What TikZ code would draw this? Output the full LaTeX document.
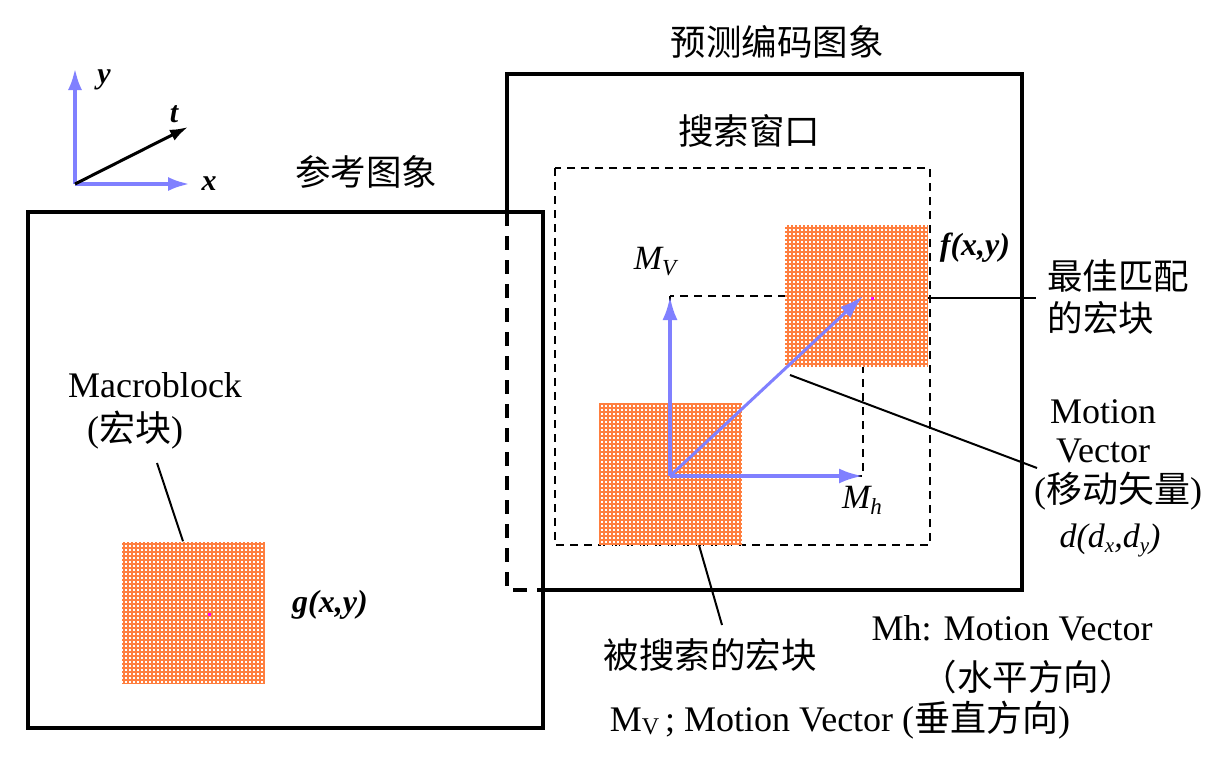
\documentclass[tikz,border=0pt]{standalone}
\usepackage{fontspec}
\setmainfont{Liberation Serif}
\newfontfamily\cjk{Noto Sans CJK SC}
\usetikzlibrary{arrows.meta,patterns}
\definecolor{blkorange}{RGB}{255,127,63}
\definecolor{arrowblue}{RGB}{128,128,255}
\definecolor{dotmag}{RGB}{255,0,255}
\pgfdeclarepatternformonly{wdots}{\pgfpoint{-0.5pt}{-0.5pt}}{\pgfpoint{4.5pt}{4.5pt}}{\pgfpoint{4pt}{4pt}}{\pgfpathrectangle{\pgfpoint{1pt}{1pt}}{\pgfpoint{2pt}{2pt}}\pgfusepath{fill}}
\begin{document}
\begin{tikzpicture}[x=1pt,y=-1pt,
  frame/.style={line width=4pt},
  thickdash/.style={line width=4pt, dash pattern=on 14pt off 10pt},
  winddash/.style={line width=2pt, dash pattern=on 8pt off 6pt},
  blk/.style={draw=none, fill=blkorange, minimum width=143pt, minimum height=142pt, inner sep=0pt, postaction={pattern=wdots, pattern color=white}},
  bluearrow/.style={draw=arrowblue, line width=4pt, -{Latex[length=24pt,width=15pt]}},
  leader/.style={line width=2pt},
  zh/.style={font=\cjk\fontsize{35.5}{40}\selectfont, inner sep=0pt},
  en/.style={font=\fontsize{36}{40}\selectfont, inner sep=0pt},
  ax/.style={font=\fontsize{30}{34}\selectfont\bfseries\itshape, inner sep=0pt},
  fn/.style={font=\fontsize{32}{36}\selectfont\bfseries\itshape, inner sep=0pt},
  mv/.style={font=\fontsize{34}{38}\selectfont\itshape, inner sep=0pt}
]
\useasboundingbox (0,0) rectangle (1225,776);
\fill[white] (0,0) rectangle (1225,776);

% axes
\coordinate (O) at (75,184);
\coordinate (Ytip) at (75,68);
\coordinate (Xtip) at (190,184);
\coordinate (Ttip) at (188,127);
\draw[bluearrow, -{Latex[length=22pt,width=14pt]}] (O) -- (Ytip);
\draw[bluearrow, -{Latex[length=22pt,width=14pt]}] (O) -- (Xtip);
\draw[line width=3pt, -{Latex[length=18pt,width=12pt]}] (O) -- (Ttip);
\node[ax] (ylab) at (104,80) {y};
\node[ax] (tlab) at (174,114) {t};
\node[ax] (xlab) at (209,184) {x};

% search window and small dashed rectangle
\draw[winddash] (555,168) rectangle (930,545);
\draw[winddash] (670,296) rectangle (863,476);

% blocks
\node[blk] (ref) at (193.5,612.5) {};
\node[blk] (srch) at (670.5,474) {};
\node[blk] (best) at (856.5,296) {};
\fill[dotmag] (208,612.5) rectangle (211,615.5);
\fill[dotmag] (871,297) rectangle (874,300);

% motion vectors
\coordinate (MO) at (670,476);
\coordinate (MVtip) at (670,296);
\coordinate (MHtip) at (863,476);
\coordinate (MDtip) at (863,296);
\draw[bluearrow] (MO) -- (MVtip);
\draw[bluearrow] (MO) -- (MHtip);
\draw[bluearrow, line width=3pt] (MO) -- (MDtip);

% frames
\draw[frame] (28,212) rectangle (543,728);
\draw[frame] (507,212) -- (507,74) -- (1022,74) -- (1022,590) -- (543,590);
\draw[thickdash] (507,212) -- (507,590) -- (543,590);

% texts
\node[zh] (pred) at (777,42) {预测编码图象};
\node[zh] (refimg) at (366,172) {参考图象};
\node[zh] (win) at (749,131) {搜索窗口};
\node[en] (mb) at (155,385) {Macroblock};
\node[en] (mbzh) at (135,430) {({\cjk 宏块})};
\node[fn] (g) at (330,605) {g(x,y)};
\node[fn] (f) at (975,248) {f(x,y)};
\node[mv] (mvl) at (655,262) {M\raisebox{-6pt}{\fontsize{23}{23}\selectfont V}};
\node[mv] (mhl) at (862,500) {M\raisebox{-6pt}{\fontsize{23}{23}\selectfont h}};
\node[zh] (best1) at (1118,276) {最佳匹配};
\node[zh] (best2) at (1101,318) {的宏块};
\node[en] (mot1) at (1103,412) {Motion};
\node[en] (mot2) at (1103,451) {Vector};
\node[en] (mot3) at (1118,491) {({\cjk 移动矢量})};
\node[mv] (mot4) at (1110,540) {d(d\raisebox{-5pt}{\fontsize{21}{21}\selectfont x},d\raisebox{-5pt}{\fontsize{21}{21}\selectfont y})};
\node[zh] (srchl) at (710,655) {被搜索的宏块};
\node[en] (mh1) at (1012,628) {Mh: Motion Vector};
\node[zh] (mh2) at (1028,677) {（水平方向）};
\node[en] (mvline) at (840,720) {M\raisebox{-3pt}{\fontsize{24}{24}\selectfont V}\,; Motion Vector ({\cjk 垂直方向})};

% leader lines
\coordinate (mbend) at (157,463);
\draw[leader] (mbend) -- (ref.north west -| 183,0);
\coordinate (srchend) at (722,625);
\draw[leader] (srch.south west -| 699,0) -- (srchend);
\coordinate (bestend) at (1036,298);
\draw[leader] (best.east |- 0,298) -- (bestend);
\coordinate (mvstart) at (790,375);
\coordinate (mvend) at (1037,468);
\draw[leader] (mvstart) -- (mvend);
\end{tikzpicture}
\end{document}
